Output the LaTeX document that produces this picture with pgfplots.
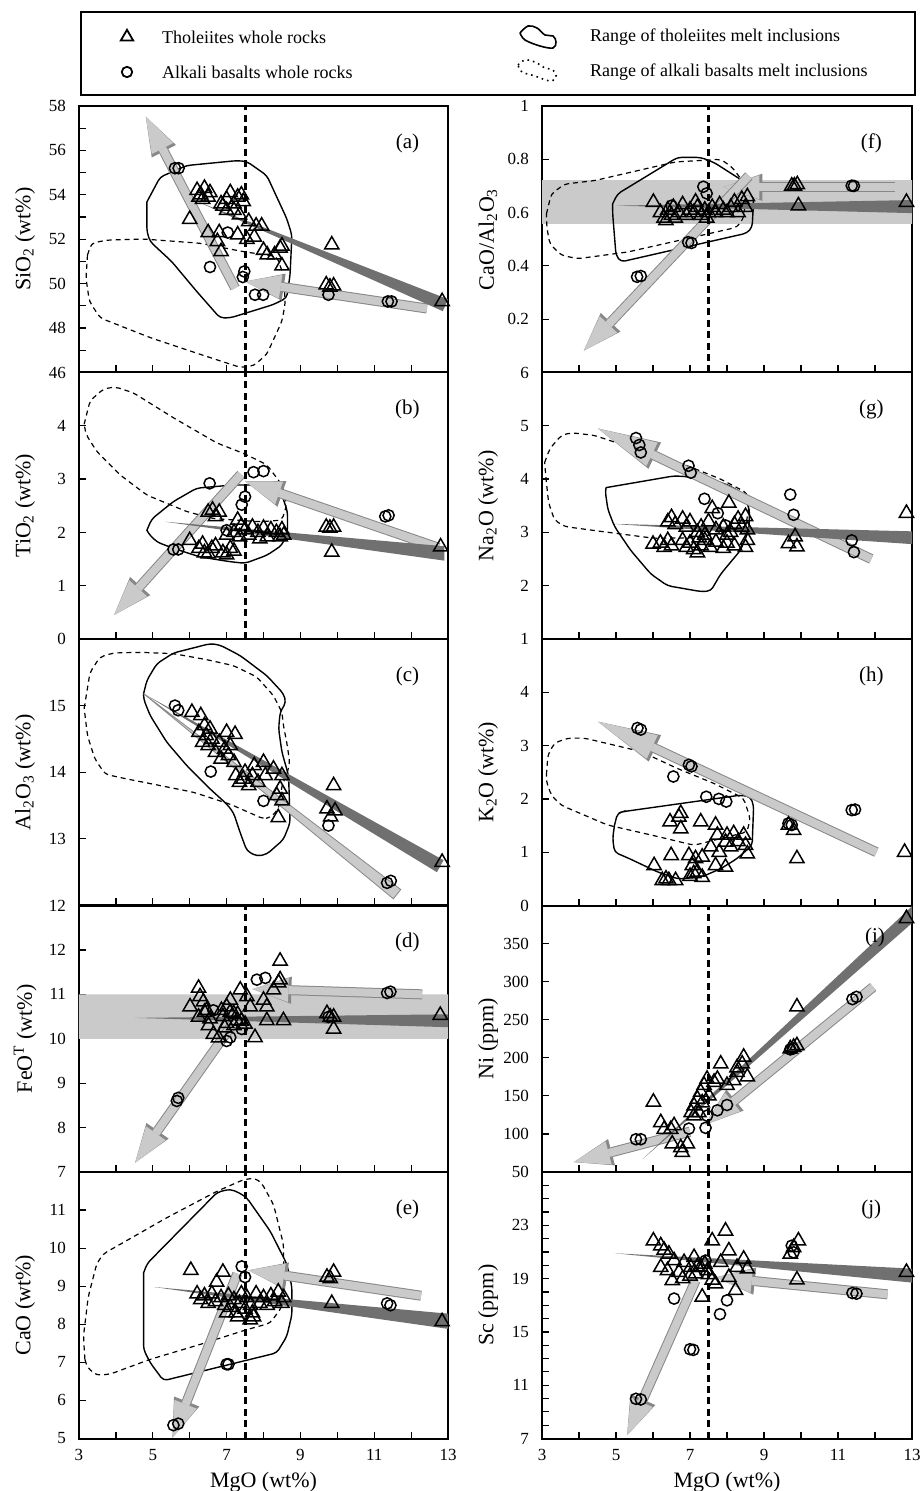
\documentclass[border=0pt]{standalone}
\usepackage{fontspec}
\setmainfont{Liberation Serif}
\usepackage{pgfplots}
\pgfplotsset{compat=1.18}
\usetikzlibrary{arrows.meta}
\definecolor{dk}{RGB}{112,112,112}
\definecolor{lt}{RGB}{202,202,202}
\definecolor{ltb}{RGB}{135,135,135}
\pgfplotsset{
  panel/.style={scale only axis, height=133.25pt, xmin=3, xmax=13, anchor=north west,
    axis line style={line width=1pt}, tick align=inside, tick pos=left,
    major tick length=3.5pt, minor tick length=3.5pt,
    every tick/.style={black, line width=0.6pt},
    xtick={3,5,...,13}, minor xtick={4,6,...,12}, xticklabels={},
    ticklabel style={font=\fontsize{8.5}{10}\selectfont},
    yticklabel style={xshift=-3pt}, xticklabel style={yshift=-2pt},
    /pgf/number format/assume math mode=true,
    label style={font=\fontsize{11}{13}\selectfont},
    ylabel style={at={(axis description cs:-0.146,0.5)}, anchor=center},
    xlabel style={at={(axis description cs:0.5,0)}, anchor=center, yshift=-22pt},
  },
  L/.style={panel, width=184.5pt},
  R/.style={panel, width=185pt},
  tri/.style={only marks, mark=triangle, mark size=4.1pt, mark options={draw=black, fill=none, line width=0.75pt, solid}},
  cir/.style={only marks, mark=o, mark size=2.8pt, mark options={draw=black, line width=0.75pt, solid}},
  wedge/.style={fill=dk, draw=none, no marks},
  lwedge/.style={fill=lt, draw=ltb, line width=0.4pt, no marks},
  sol/.style={black, line width=0.7pt, no marks, rounded corners=2pt},
  das/.style={black, line width=0.6pt, no marks, dash pattern=on 2.5pt off 2pt, rounded corners=2pt},
  vline/.style={black, line width=1.5pt, no marks, dash pattern=on 3.5pt off 2.2pt},
  band/.style={fill=lt, draw=none, no marks},
  aO/.style={draw=ltb, line width=5pt, no marks, -{Triangle[width=13.6pt,length=19.5pt,line width=0pt]}},
  aI/.style={draw=lt, line width=4pt, no marks, -{Triangle[width=12pt,length=18pt,line width=0pt]}},
  bO/.style={draw=ltb, line width=5pt, no marks, -{Triangle[width=14.6pt,length=31.5pt,line width=0pt]}},
  bI/.style={draw=lt, line width=4pt, no marks, -{Triangle[width=13pt,length=30pt,line width=0pt]}},
}
\newcommand\arr[3]{\addplot[#1O] coordinates {#2 #3};\addplot[#1I] coordinates {#2 #3};}
\newcommand\lett[1]{\node[font=\fontsize{10.5}{12}\selectfont] at (rel axis cs:0.89,0.86) {#1};}
\begin{document}
\begin{tikzpicture}
\useasboundingbox (0,0) rectangle (460pt,-745.5pt);
% ---------------- legend box
\begin{axis}[at={(40.5pt,-6pt)}, anchor=north west, scale only axis, width=417pt, height=41.5pt,
  xmin=81, xmax=915, ymin=12, ymax=95, y dir=reverse, axis line style={line width=1pt},
  ticks=none, clip=false]
\addplot[only marks, mark=triangle, mark size=3.6pt, mark options={draw=black, line width=0.9pt}] coordinates {(127,37)};
\addplot[only marks, mark=o, mark size=2.6pt, mark options={draw=black, line width=0.9pt}] coordinates {(127,72)};
\addplot[black, line width=0.8pt, no marks, smooth, tension=0.6] coordinates {(520,33) (528,26) (537,28) (545,35) (553,36) (556,42) (553,48) (540,46) (525,40) (520,33)};
\addplot[black, line width=0.8pt, no marks, dotted, smooth, tension=0.6] coordinates {(518,65) (525,60) (535,62) (545,68) (553,70) (556,77) (550,81) (535,76) (522,72) (518,65)};
\node[anchor=west, font=\fontsize{9}{11}\selectfont] at (axis cs:155,37) {Tholeiites whole rocks};
\node[anchor=west, font=\fontsize{9}{11}\selectfont] at (axis cs:155,72) {Alkali basalts whole rocks};
\node[anchor=west, font=\fontsize{9}{11}\selectfont] at (axis cs:583,37) {Range of tholeiites melt inclusions};
\node[anchor=west, font=\fontsize{9}{11}\selectfont] at (axis cs:583,72) {Range of alkali basalts melt inclusions};
\end{axis}
% ---------------- (a)
\begin{axis}[L, at={(39.5pt,-53pt)}, ymin=46, ymax=58, ytick={46,48,...,58}, yticklabels={46,48,50,52,54,56,58}, minor ytick={47,49,...,57}, ylabel={SiO\textsubscript{2} (wt\%)}]
\addplot[das] coordinates {(3.23,51.29) (3.34,51.82) (3.75,51.96) (4.75,52.01) (6.28,51.82) (7.46,51.44) (8.36,51.22) (8.54,50.40) (8.59,49.13) (8.50,48.31) (8.09,46.82) (7.73,46.30) (7.37,46.23) (6.28,46.82) (4.93,47.57) (3.57,48.46) (3.28,49.21) (3.19,50.25) (3.23,51.29)};
\addplot[sol] coordinates {(4.84,53.68) (5.20,54.80) (5.92,55.32) (7.28,55.54) (7.55,55.50) (8.09,54.87) (8.63,52.93) (8.77,52.19) (8.72,50.40) (8.63,49.36) (8.27,49.06) (7.10,48.46) (6.82,48.46) (6.19,49.65) (5.51,51.00) (4.93,51.89) (4.84,52.34) (4.84,53.68)};
\arr{a}{(12.43,48.88)}{(7.50,50.10)}
\arr{a}{(7.23,49.80)}{(4.81,57.52)}
\addplot[wedge] coordinates {(6.19,53.71) (12.86,48.76) (13.0,49.30) (6.19,53.71)};
\addplot[vline] coordinates {(7.5,46) (7.5,58)};
\addplot[tri] coordinates {(6.2,54.2) (6.3,54.0) (6.4,54.3) (6.5,53.9) (6.35,53.8) (6.55,54.1) (6.25,53.9) (6.9,53.5) (7.0,53.8) (7.1,54.1) (7.2,53.6) (7.3,53.9) (7.4,54.0) (7.45,53.7) (7.0,53.3) (7.2,53.3) (7.35,53.1) (6.85,53.6) (6.0,52.9) (6.5,52.3) (6.8,52.3) (6.75,51.9) (6.85,51.45) (7.3,52.2) (7.6,52.8) (7.8,52.6) (7.95,52.6) (7.55,52.0) (7.75,52.1) (8.0,51.5) (8.1,51.3) (8.3,51.3) (8.45,51.6) (8.5,51.7) (8.5,50.8) (9.85,51.75) (9.7,49.95) (9.8,49.85) (9.9,49.9) (12.84,49.2)};
\addplot[cir] coordinates {(5.6,55.2) (5.7,55.2) (7.03,52.3) (6.55,50.75) (7.48,50.55) (7.44,50.3) (7.77,49.5) (7.99,49.5) (9.76,49.5) (11.37,49.2) (11.47,49.2)};
\lett{(a)}
\end{axis}
% ---------------- (b)
\begin{axis}[L, at={(39.5pt,-186.25pt)}, ymin=0, ymax=5, ytick={0,...,5}, yticklabels={0,1,2,3,4,{}}, ylabel={TiO\textsubscript{2} (wt\%)}]
\addplot[das] coordinates {(3.14,4.03) (3.30,4.47) (3.66,4.69) (3.98,4.73) (4.47,4.62) (5.56,4.15) (6.73,3.68) (7.50,3.47) (8.09,3.27) (8.50,2.89) (8.63,2.52) (8.50,2.23) (7.91,2.20) (6.64,2.26) (5.92,2.39) (4.84,2.70) (4.11,3.08) (3.48,3.52) (3.19,3.84) (3.14,4.03)};
\addplot[sol] coordinates {(4.84,2.04) (4.97,2.25) (5.56,2.58) (6.19,2.83) (7.19,2.89) (8.09,2.89) (8.50,2.70) (8.65,2.39) (8.65,2.01) (8.50,1.76) (8.09,1.57) (7.50,1.42) (7.10,1.45) (6.28,1.54) (5.56,1.70) (5.11,1.82) (4.88,1.98) (4.84,2.04)};
\arr{a}{(12.75,1.71)}{(7.5,2.96)}
\arr{a}{(7.39,3.09)}{(3.95,0.45)}
\addplot[wedge] coordinates {(5.33,2.20) (12.9,1.47) (12.9,1.74) (5.33,2.20)};
\addplot[vline] coordinates {(7.5,0) (7.5,5)};
\addplot[tri] coordinates {(6.0,1.85) (6.25,1.7) (6.4,1.62) (6.5,1.6) (6.6,1.7) (6.35,1.78) (6.7,1.75) (6.9,1.62) (7.0,1.58) (7.1,1.7) (7.2,1.65) (6.5,2.38) (6.62,2.42) (6.8,2.38) (6.7,2.3) (7.3,2.23) (7.0,1.95) (7.2,2.0) (7.35,1.92) (7.5,2.05) (7.6,1.95) (7.7,2.1) (7.85,2.0) (8.0,2.08) (8.1,1.92) (8.2,2.05) (8.35,2.0) (8.45,1.92) (8.5,2.05) (8.55,1.95) (7.9,1.88) (7.4,2.12) (9.7,2.1) (9.8,2.08) (9.9,2.1) (9.85,1.63) (12.8,1.73)};
\addplot[cir] coordinates {(5.56,1.68) (5.69,1.68) (6.54,2.92) (7.73,3.13) (8.0,3.15) (7.5,2.67) (7.41,2.52) (7.0,2.04) (11.3,2.30) (11.39,2.32)};
\lett{(b)}
\end{axis}
% ---------------- (c)
\begin{axis}[L, at={(39.5pt,-319.5pt)}, ymin=12, ymax=16, ytick={12,...,16}, yticklabels={12,13,14,15,{}}, ylabel={Al\textsubscript{2}O\textsubscript{3} (wt\%)}]
\addplot[das] coordinates {(3.14,14.96) (3.30,15.50) (3.57,15.73) (3.93,15.79) (4.65,15.80) (5.56,15.78) (6.46,15.69) (7.19,15.60) (7.82,15.43) (8.27,15.15) (8.50,14.90) (8.54,14.70) (8.63,14.45) (8.71,14.15) (8.65,14.00) (8.50,13.80) (8.41,13.45) (8.18,13.32) (8.00,13.30) (7.10,13.52) (6.10,13.70) (5.02,13.82) (4.29,13.90) (3.71,13.97) (3.43,14.20) (3.23,14.55) (3.14,14.96)};
\addplot[sol] coordinates {(4.75,15.18) (4.84,15.38) (5.11,15.63) (5.56,15.79) (6.55,15.93) (6.82,15.91) (7.37,15.75) (8.09,15.45) (8.54,15.18) (8.61,15.05) (8.45,14.90) (8.41,14.65) (8.50,14.30) (8.68,13.95) (8.72,13.24) (8.54,12.99) (8.09,12.77) (7.82,12.74) (7.55,12.82) (7.37,13.09) (7.19,13.39) (7.01,13.52) (6.55,13.75) (5.92,14.10) (5.38,14.45) (4.93,14.85) (4.75,15.10) (4.75,15.18)};
\addplot[lwedge] coordinates {(4.75,15.18) (11.52,12.10) (11.72,12.24) (4.75,15.18)};
\addplot[wedge] coordinates {(4.75,15.18) (12.70,12.50) (12.88,12.68) (4.75,15.18)};
\addplot[tri] coordinates {(6.06,14.9) (6.3,14.85) (6.4,14.7) (6.25,14.6) (6.45,14.55) (6.35,14.45) (6.55,14.65) (6.5,14.4) (6.6,14.5) (6.7,14.3) (6.8,14.45) (6.85,14.2) (6.95,14.35) (7.05,14.25) (7.0,14.6) (7.23,14.57) (7.1,14.4) (7.2,14.15) (7.25,13.95) (7.35,13.85) (7.45,13.9) (7.5,14.0) (7.6,13.8) (7.7,13.95) (7.75,14.1) (7.85,13.85) (8.0,14.15) (8.05,13.95) (8.27,14.05) (8.5,13.95) (8.45,13.75) (8.36,13.65) (8.5,13.57) (8.4,13.32) (9.9,13.8) (9.72,13.45) (9.94,13.42) (9.82,13.33) (12.84,12.65)};
\addplot[cir] coordinates {(5.6,15.0) (5.69,14.93) (6.57,14.01) (8.0,13.57) (9.76,13.2) (11.35,12.34) (11.45,12.37)};
\lett{(c)}
\end{axis}
% ---------------- (d)
\begin{axis}[L, at={(39.5pt,-452.75pt)}, ymin=7, ymax=13, ytick={7,...,13}, yticklabels={7,8,9,10,11,12,{}}, ylabel={FeO\textsuperscript{T} (wt\%)}]
\addplot[band] coordinates {(3,10) (13,10) (13,11) (3,11) (3,10)};
\arr{a}{(12.3,11.0)}{(7.7,11.12)}
\arr{a}{(7.23,10.41)}{(4.52,7.21)}
\addplot[wedge] coordinates {(4.52,10.47) (13,10.26) (13,10.55) (4.52,10.47)};
\addplot[vline] coordinates {(7.5,7) (7.5,13)};
\addplot[tri] coordinates {(6.24,11.14) (6.28,10.95) (6.37,10.83) (6.01,10.72) (6.46,10.64) (6.24,10.49) (6.51,10.30) (6.64,10.1) (6.78,10.02) (6.86,10.64) (7.0,10.72) (7.1,10.87) (7.19,10.57) (7.28,10.41) (7.37,11.1) (7.55,10.95) (7.64,10.72) (7.77,10.03) (7.5,10.33) (8.0,10.87) (8.09,10.41) (8.09,10.72) (8.27,11.1) (8.41,11.26) (8.45,11.33) (8.45,11.75) (8.54,10.41) (9.72,10.57) (9.81,10.49) (9.9,10.49) (9.9,10.22) (12.79,10.53) (6.9,10.5) (7.0,10.35) (7.1,10.6) (7.2,10.3) (7.3,10.55) (6.95,10.25) (6.55,10.45) (6.4,10.6) (7.4,10.4)};
\addplot[cir] coordinates {(5.65,8.6) (5.69,8.67) (7.0,9.95) (7.1,10.03) (6.64,10.64) (7.41,10.22) (7.82,11.33) (8.05,11.37) (11.35,11.03) (11.44,11.06) (9.76,10.49)};
\lett{(d)}
\end{axis}
% ---------------- (e)
\begin{axis}[L, at={(39.5pt,-586pt)}, ymin=5, ymax=12, ytick={5,...,12}, yticklabels={5,6,7,8,9,10,11,{}}, ylabel={CaO (wt\%)}, xticklabels={3,5,7,9,11,13}, xlabel={MgO (wt\%)}]
\addplot[das] coordinates {(3.16,7.08) (3.12,7.68) (3.25,8.72) (3.48,9.59) (3.66,9.85) (5.38,10.80) (6.73,11.49) (7.46,11.80) (7.77,11.84) (7.95,11.71) (8.27,11.15) (8.54,10.11) (8.55,9.5) (8.50,8.46) (8.18,8.03) (7.55,7.86) (6.28,7.47) (4.93,7.08) (3.84,6.69) (3.48,6.66) (3.23,6.86) (3.16,7.08)};
\addplot[sol] coordinates {(4.75,9.35) (4.85,9.6) (6.75,11.47) (7.1,11.55) (7.35,11.45) (7.55,11.32) (8.18,10.45) (8.63,9.59) (8.77,8.98) (8.77,8.25) (8.63,7.68) (8.36,7.25) (5.29,6.52) (4.93,6.99) (4.75,7.34) (4.75,9.35)};
\arr{a}{(12.27,8.75)}{(7.59,9.42)}
\arr{a}{(7.29,9.33)}{(5.53,5.02)}
\addplot[wedge] coordinates {(5.03,8.98) (13,7.88) (13,8.28) (5.03,8.98)};
\addplot[vline] coordinates {(7.5,5) (7.5,12)};
\addplot[tri] coordinates {(6.03,9.42) (6.9,9.37) (6.73,9.11) (6.2,8.8) (6.3,8.65) (6.4,8.75) (6.5,8.55) (6.6,8.8) (6.7,8.6) (6.85,8.7) (6.95,8.5) (7.05,8.75) (7.1,8.45) (7.2,8.65) (7.25,8.3) (7.35,8.55) (7.4,8.8) (7.5,8.4) (7.55,8.7) (7.65,8.5) (7.7,8.3) (7.8,8.8) (7.9,8.55) (8.0,8.7) (8.1,8.5) (8.2,8.75) (8.3,8.6) (8.4,8.85) (8.5,8.55) (8.55,8.7) (7.3,8.2) (7.0,8.3) (7.73,8.2) (7.64,8.12) (9.72,9.24) (9.9,9.37) (9.81,9.2) (9.85,8.55) (12.84,8.07)};
\addplot[cir] coordinates {(7.41,9.52) (7.5,9.24) (7.0,6.95) (7.05,6.95) (5.56,5.35) (5.69,5.39) (11.35,8.55) (11.44,8.5)};
\lett{(e)}
\end{axis}
% ---------------- (f)
\begin{axis}[R, at={(271pt,-53pt)}, ymin=0, ymax=1, ytick={0,0.2,...,1}, yticklabels={{},0.2,0.4,0.6,0.8,1}, ylabel={CaO/Al\textsubscript{2}O\textsubscript{3}}]
\addplot[band] coordinates {(3,0.558) (13,0.558) (13,0.722) (3,0.722) (3,0.558)};
\addplot[das] coordinates {(3.12,0.595) (3.25,0.67) (3.61,0.707) (4.42,0.72) (6.6,0.79) (7.83,0.80) (8.14,0.77) (8.41,0.72) (8.5,0.65) (8.45,0.58) (8.27,0.545) (7.1,0.508) (5.31,0.452) (3.97,0.427) (3.52,0.44) (3.21,0.483) (3.13,0.545) (3.12,0.595)};
\addplot[sol] coordinates {(4.91,0.633) (5.04,0.67) (6.66,0.807) (7.29,0.807) (7.65,0.788) (8.63,0.701) (8.72,0.65) (8.68,0.545) (8.54,0.523) (5.13,0.415) (5.0,0.44) (4.91,0.595) (4.91,0.633)};
\arr{a}{(12.53,0.695)}{(7.9,0.695)}
\arr{a}{(8.59,0.738)}{(4.13,0.082)}
\addplot[wedge] coordinates {(5.0,0.626) (13,0.598) (13,0.647) (5.0,0.626)};
\addplot[vline] coordinates {(7.5,0) (7.5,1)};
\addplot[tri] coordinates {(6.01,0.639) (9.93,0.626) (12.85,0.639) (9.75,0.70) (9.82,0.70) (9.9,0.705) (6.2,0.6) (6.3,0.58) (6.4,0.61) (6.5,0.59) (6.55,0.62) (6.7,0.6) (6.8,0.63) (6.9,0.59) (7.0,0.61) (7.1,0.6) (7.2,0.62) (7.3,0.59) (7.4,0.61) (7.5,0.6) (7.6,0.62) (7.7,0.6) (7.8,0.63) (7.9,0.61) (8.0,0.6) (8.1,0.62) (8.2,0.64) (8.3,0.6) (8.4,0.65) (8.5,0.62) (8.55,0.66) (6.35,0.57) (6.6,0.58) (7.15,0.64) (7.45,0.58)};
\addplot[cir] coordinates {(7.36,0.697) (7.45,0.672) (6.95,0.489) (7.04,0.486) (5.57,0.359) (5.67,0.362) (11.37,0.701) (11.43,0.70) (6.5,0.626)};
\lett{(f)}
\end{axis}
% ---------------- (g)
\begin{axis}[R, at={(271pt,-186.25pt)}, ymin=1, ymax=6, ytick={1,...,6}, yticklabels={1,2,3,4,5,6}, ylabel={Na\textsubscript{2}O (wt\%)}]
\addplot[das] coordinates {(3.07,4.31) (3.21,4.57) (3.52,4.82) (3.79,4.87) (4.42,4.82) (5.49,4.57) (6.93,4.25) (7.83,4.0) (8.54,3.74) (8.6,3.5) (8.5,3.1) (7.2,2.9) (6.03,2.89) (4.69,3.01) (3.61,3.11) (3.34,3.23) (3.18,3.55) (3.12,3.93) (3.07,4.31)};
\addplot[sol] coordinates {(4.73,3.84) (6.57,4.06) (7.29,4.03) (8.0,3.9) (8.41,3.74) (8.61,3.43) (8.59,3.04) (8.36,2.66) (7.83,2.22) (7.56,1.9) (7.29,1.89) (6.39,2.0) (5.94,2.22) (5.40,2.66) (4.96,3.11) (4.78,3.43) (4.71,3.77) (4.73,3.84)};
\arr{b}{(11.9,2.50)}{(4.51,4.95)}
\addplot[wedge] coordinates {(4.91,3.16) (13,2.78) (13,3.02) (4.91,3.16)};
\addplot[tri] coordinates {(6.0,2.78) (6.2,2.8) (6.3,2.72) (6.4,2.85) (6.5,2.75) (6.9,2.72) (7.0,2.8) (7.1,2.68) (7.2,2.62) (7.3,2.75) (7.4,2.85) (7.55,2.72) (7.7,2.82) (7.9,2.7) (8.0,2.8) (8.2,2.75) (8.5,2.72) (8.55,2.85) (7.25,2.9) (6.8,2.85) (6.4,3.2) (6.5,3.28) (6.6,3.15) (6.8,3.25) (6.9,3.1) (7.0,3.2) (7.2,3.0) (7.3,3.1) (7.5,3.2) (7.7,3.05) (7.9,3.1) (8.1,3.0) (8.2,3.15) (8.3,3.25) (8.4,3.1) (8.5,3.3) (8.55,3.05) (7.6,3.45) (8.05,3.55) (7.4,2.95) (8.0,2.95) (9.84,2.92) (9.89,2.73) (9.66,2.79) (12.85,3.36)};
\addplot[cir] coordinates {(5.54,4.77) (5.63,4.64) (5.67,4.5) (6.96,4.25) (7.02,4.12) (7.39,3.63) (7.75,3.36) (7.96,3.13) (9.71,3.71) (9.8,3.33) (11.37,2.85) (11.43,2.63)};
\lett{(g)}
\end{axis}
% ---------------- (h)
\begin{axis}[R, at={(271pt,-319.5pt)}, ymin=0, ymax=5, ytick={0,...,5}, yticklabels={0,1,2,3,4,{}}, ylabel={K\textsubscript{2}O (wt\%)}]
\addplot[das] coordinates {(3.12,2.45) (3.16,2.83) (3.34,3.05) (3.70,3.14) (4.15,3.14) (5.67,2.89) (6.66,2.57) (7.65,2.29) (8.45,2.01) (8.63,1.63) (8.54,1.38) (7.11,1.13) (6.03,1.31) (4.77,1.51) (3.52,1.88) (3.25,2.07) (3.12,2.32) (3.12,2.45)};
\addplot[sol] coordinates {(4.96,1.51) (5.04,1.73) (5.18,1.76) (8.36,2.07) (8.63,2.04) (8.72,1.88) (8.68,1.13) (8.27,0.88) (7.83,0.69) (7.29,0.53) (6.66,0.50) (6.12,0.63) (5.36,0.88) (4.96,1.0) (4.91,1.26) (4.96,1.51)};
\arr{b}{(12.04,1.0)}{(4.51,3.45)}
\addplot[tri] coordinates {(6.75,1.73) (6.70,1.66) (6.46,1.57) (6.75,1.44) (7.29,1.57) (7.69,1.51) (7.74,1.32) (8.0,1.32) (8.18,1.35) (8.45,1.32) (8.5,1.13) (8.55,0.97) (7.96,1.19) (7.56,1.10) (7.79,1.0) (6.49,0.94) (6.03,0.75) (6.25,0.47) (6.43,0.47) (6.61,0.47) (6.97,0.94) (7.15,0.88) (7.33,0.91) (7.06,0.75) (7.2,0.63) (7.33,0.53) (7.69,0.75) (7.96,0.72) (9.66,1.51) (9.8,1.41) (9.89,0.88) (12.8,1.0) (8.3,1.2) (8.1,1.1) (7.1,0.6) (7.0,0.55) (6.35,0.5)};
\addplot[cir] coordinates {(5.58,3.33) (5.67,3.3) (6.97,2.64) (7.04,2.61) (6.55,2.42) (7.44,2.04) (7.78,2.0) (7.98,1.95) (9.66,1.54) (9.75,1.51) (11.37,1.79) (11.46,1.8)};
\lett{(h)}
\end{axis}
% ---------------- (i)
\begin{axis}[R, at={(271pt,-452.75pt)}, ymin=50, ymax=400, ytick={50,100,...,400}, yticklabels={50,100,150,200,250,300,350,{}}, ylabel={Ni (ppm)}]
\arr{a}{(11.95,293)}{(7.4,112)}
\arr{a}{(7.0,103)}{(3.86,63)}
\addplot[wedge] coordinates {(5.72,67) (13.42,394.7) (13.18,407.3) (5.72,67)};
\addplot[vline] coordinates {(7.5,50) (7.5,400)};
\addplot[tri] coordinates {(12.85,383) (9.89,267) (9.71,212) (9.8,214) (9.89,216) (6.01,142) (6.21,115) (6.3,106) (6.48,106) (6.57,111) (6.52,87) (6.75,82) (6.93,87) (6.79,76) (7.11,137) (7.2,146) (7.29,155) (7.38,164) (7.03,128) (7.51,150) (7.65,168) (7.11,124) (7.24,128) (7.33,141) (7.46,172) (7.83,192) (7.74,172) (8.0,164) (8.18,170) (8.27,181) (8.41,192) (8.45,201) (8.55,175) (8.27,187)};
\addplot[cir] coordinates {(5.54,93) (5.67,93) (6.97,107) (7.42,108) (7.46,124) (7.74,131) (8.0,138) (9.71,211) (9.78,212) (11.39,277) (11.5,280)};
\node[font=\fontsize{10.5}{12}\selectfont] at (rel axis cs:0.90,0.88) {(i)};
\end{axis}
% ---------------- (j)
\begin{axis}[R, at={(271pt,-586pt)}, ymin=7, ymax=27, ytick={7,11,...,23}, yticklabels={7,11,15,19,23}, minor ytick={8,...,26}, ylabel={Sc (ppm)}, xticklabels={3,5,7,9,11,13}, xlabel={MgO (wt\%)}]
\arr{a}{(12.34,17.82)}{(7.7,19.1)}
\arr{a}{(7.15,18.86)}{(5.30,7.25)}
\addplot[wedge] coordinates {(4.97,20.9) (13,18.7) (13,19.75) (4.97,20.9)};
\addplot[vline] coordinates {(7.5,7) (7.5,27)};
\addplot[tri] coordinates {(6.01,21.84) (6.21,21.47) (6.3,21.14) (6.43,20.85) (6.57,20.35) (6.21,19.85) (6.39,19.6) (6.52,18.86) (6.7,19.48) (6.84,20.22) (7.02,19.85) (7.11,20.6) (7.15,19.36) (7.29,19.85) (7.33,17.62) (7.47,19.6) (7.6,21.84) (7.69,18.61) (7.83,20.22) (7.96,22.58) (8.05,21.09) (8.05,19.1) (8.23,18.12) (8.27,19.85) (8.45,20.47) (8.55,19.73) (9.71,20.85) (9.8,21.34) (9.93,21.84) (9.89,18.91) (12.85,19.48) (6.8,19.0) (7.0,19.2) (7.2,19.9) (7.4,20.1) (7.5,19.3) (7.6,18.9)};
\addplot[cir] coordinates {(5.54,9.98) (5.67,9.93) (7.0,13.7) (7.09,13.65) (6.57,17.5) (7.81,16.33) (8.0,17.37) (9.75,21.47) (9.8,20.97) (11.39,17.92) (11.5,17.87) (7.42,20.35)};
\lett{(j)}
\end{axis}
\end{tikzpicture}
\end{document}
